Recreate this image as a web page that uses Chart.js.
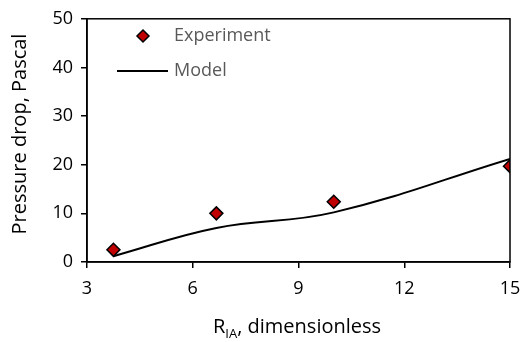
<!DOCTYPE html>
<html>
<head>
<meta charset="utf-8">
<script src="https://cdn.jsdelivr.net/npm/chart.js@4"></script>
<style>
  body { margin: 0; background: #fff; }
</style>
</head>
<body>
<canvas id="chart" width="531" height="342"></canvas>
<script>
// experiment points
var expX = [3.75, 6.67, 10, 15];
var expY = [2.5, 10, 12.4, 19.7];

// model curve (smoothed through these points)
var modelX = [3.75, 6.67, 10, 15];
var modelY = [1.2, 7.0, 10.2, 21.2];

var xTicks = [3, 6, 9, 12, 15];
var yTicks = [0, 10, 20, 30, 40, 50];

var legendLabels = ['Experiment', 'Model'];

function pairs(xs, ys) {
    return xs.map(function (x, i) { return { x: x, y: ys[i] }; });
}

// box round the plot, axis titles and the legend
var decorations = {
    id: 'decorations',
    afterDraw: function (chart) {
        var ctx = chart.ctx;
        var a = chart.chartArea;
        ctx.save();

        ctx.strokeStyle = '#000';
        ctx.lineWidth = 1.5;
        ctx.strokeRect(a.left, a.top, a.right - a.left, a.bottom - a.top);

        //y title
        ctx.fillStyle = '#000';
        ctx.font = '20px "Open Sans"';
        ctx.textAlign = 'center';
        ctx.textBaseline = 'middle';
        ctx.translate(20, 134);
        ctx.rotate(-Math.PI / 2);
        ctx.fillText('Pressure drop, Pascal', 0, 0);
        ctx.setTransform(1, 0, 0, 1, 0, 0);

        //x title with subscript
        ctx.textAlign = 'left';
        ctx.textBaseline = 'alphabetic';
        var x = 213;
        ctx.font = '20px "Open Sans"';
        ctx.fillText('R', x, 333);
        x += ctx.measureText('R').width;
        ctx.font = '13px "Open Sans"';
        ctx.fillText('IA', x, 338);
        x += ctx.measureText('IA').width;
        ctx.font = '20px "Open Sans"';
        ctx.fillText(', dimensionless', x, 333);

        //legend
        ctx.beginPath();
        ctx.moveTo(143, 30);
        ctx.lineTo(149, 36);
        ctx.lineTo(143, 42);
        ctx.lineTo(137, 36);
        ctx.closePath();
        ctx.fillStyle = '#C00000';
        ctx.fill();
        ctx.lineWidth = 1.5;
        ctx.strokeStyle = '#000';
        ctx.stroke();

        ctx.beginPath();
        ctx.moveTo(117, 71);
        ctx.lineTo(168, 71);
        ctx.lineWidth = 2;
        ctx.stroke();

        ctx.fillStyle = '#595959';
        ctx.font = '18px "Open Sans"';
        ctx.textBaseline = 'middle';
        ctx.fillText(legendLabels[0], 174, 36);
        ctx.fillText(legendLabels[1], 174, 71);

        ctx.restore();
    }
};

var ctx = document.getElementById('chart').getContext('2d');
var chart = new Chart(ctx, {
    type: 'scatter',
    data: {
        datasets: [{
            label: legendLabels[1],
            data: pairs(modelX, modelY),
            showLine: true,
            tension: 0.4,
            borderColor: '#000',
            borderWidth: 2,
            pointRadius: 0,
            fill: false,
            order: 2
        }, {
            label: legendLabels[0],
            data: pairs(expX, expY),
            showLine: false,
            pointStyle: 'rectRot',
            pointRadius: 6.5,
            backgroundColor: '#C00000',
            borderColor: '#000',
            borderWidth: 1.5,
            order: 1
        }]
    },
    options: {
        responsive: false,
        animation: false,
        layout: { padding: { top: 14, right: 21, left: 0, bottom: 0 } },
        plugins: {
            legend: { display: false },
            tooltip: { enabled: false }
        },
        scales: {
            x: {
                type: 'linear',
                min: xTicks[0],
                max: xTicks[xTicks.length - 1],
                afterBuildTicks: function (s) { s.ticks = xTicks.map(function (v) { return { value: v }; }); },
                afterFit: function (s) { s.height = 80; },
                grid: { drawOnChartArea: false, drawTicks: true, tickLength: 6, color: '#000', lineWidth: 1.5 },
                border: { color: '#000', width: 1.5 },
                ticks: { color: '#000', font: { family: 'Open Sans', size: 18 }, padding: 10 }
            },
            y: {
                type: 'linear',
                min: yTicks[0],
                max: yTicks[yTicks.length - 1],
                afterBuildTicks: function (s) { s.ticks = yTicks.map(function (v) { return { value: v }; }); },
                afterFit: function (s) { s.width = 87; },
                grid: { drawOnChartArea: false, drawTicks: true, tickLength: 6, color: '#000', lineWidth: 1.5 },
                border: { color: '#000', width: 1.5 },
                ticks: { color: '#000', font: { family: 'Open Sans', size: 18 }, padding: 8 }
            }
        }
    },
    plugins: [decorations]
});
</script>
</body>
</html>
